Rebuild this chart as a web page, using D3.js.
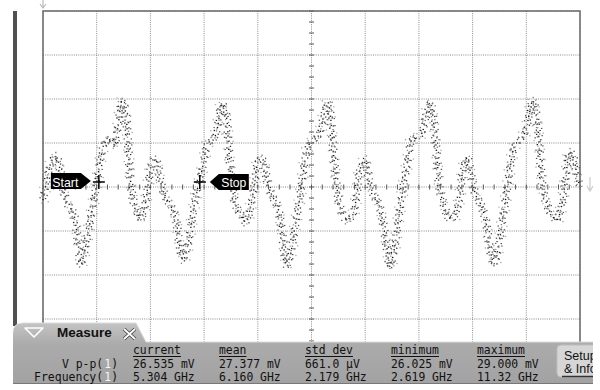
<!DOCTYPE html>
<html>
<head>
<meta charset="utf-8">
<script src="https://cdn.jsdelivr.net/npm/d3@7"></script>
<style>
  body { margin: 0; background: #fff; }
  svg { display: block; }
</style>
</head>
<body>
<div id="scope"></div>
<script>
// waveform: time in ps, amplitude in mV
const timePs = [
  0, 7, 17, 24, 32, 39, 47, 56, 61, 67, 71, 76, 84, 93, 101, 108, 115, 125, 132, 140, 147, 153, 158, 162, 168, 175, 182, 190, 197, 205, 212,
  218, 227, 237, 246, 253, 261, 268, 276, 285, 292, 300, 307, 317, 324, 333, 341, 346, 352, 359, 369, 378, 387, 395, 402, 410,
  417, 426, 436, 443, 449, 454, 462, 469, 479, 488, 495, 505, 514, 523, 531, 536, 542, 548, 555, 564, 574, 583, 590, 600,
  607, 616, 626, 633, 641, 646, 654, 661, 670, 680, 687, 696, 706, 713, 721, 728, 734, 739, 747, 756, 765, 775, 782, 790,
  797, 806, 816, 825, 832, 840, 847, 855, 864, 872, 879, 888, 898, 905, 912, 920, 926, 931, 939, 948, 957, 966, 974, 981, 989, 996, 1000
];
const voltMv = [
  -2.1, 1.1, 4.3, 4.9, 2.7, -0.8, -2.9, -4.0, -6.0, -10.0, -12.2, -10.8, -7.2, -2.9, 1.1, 4.8, 7.0, 7.5, 6.5, 9.9, 13.7, 12.2, 7.5, 1.9, -2.1, -3.7, -5.2, -2.9, 1.1, 4.3, 4.0,
  1.1, -1.3, -2.9, -4.5, -8.4, -11.6, -10.0, -6.0, -1.3, 1.1, 4.3, 7.0, 7.5, 9.1, 13.2, 11.4, 5.9, 0.3, -2.9, -4.5, -5.6, -2.9, 1.1, 4.3, 4.3,
  1.1, -1.3, -2.9, -6.0, -10.0, -12.6, -10.3, -6.5, -1.3, 4.3, 6.7, 7.5, 8.3, 11.4, 13.4, 10.7, 4.3, -0.5, -3.7, -5.2, -4.9, -2.1, 2.7, 4.3,
  1.1, -1.3, -2.9, -5.7, -10.0, -12.6, -10.0, -5.6, -0.5, 4.6, 7.5, 7.8, 8.7, 11.4, 13.4, 9.9, 4.3, -0.5, -2.9, -4.9, -4.9, -2.1, 2.7, 4.6,
  1.9, -1.3, -2.9, -5.6, -9.7, -12.2, -10.0, -5.6, -0.5, 4.3, 6.7, 7.5, 8.7, 11.4, 13.7, 10.7, 4.3, -0.5, -2.9, -4.5, -5.2, -2.9, 1.9, 5.6, 4.3, 1.1, 0.3
];

// Start / Stop markers
const markerNames = ['Start', 'Stop'];
const markerTimes = [104, 292];
const markerLevel = 0.8;

// measurement table
const rowLabels = ['V p-p', 'Frequency'];
const colHeads = ['current', 'mean', 'std dev', 'minimum', 'maximum'];
const vppValues = ['26.535 mV', '27.377 mV', '661.0 µV', '26.025 mV', '29.000 mV'];
const freqValues = ['5.304 GHz', '6.160 GHz', '2.179 GHz', '2.619 GHz', '11.32 GHz'];

const W = 600, H = 390;
const plotL = 43, plotR = 580, plotT = 11, plotB = 363;

const x = d3.scaleLinear().domain([0, 1000]).range([plotL, plotR]);
const y = d3.scaleLinear().domain([-28, 28]).range([plotB, plotT]);

const svg = d3.select('#scope').append('svg')
  .attr('width', W)
  .attr('height', H)
  .style('font-family', 'DejaVu Sans Mono, monospace');

// dark bar at the far left
svg.append('rect').attr('x', 13).attr('y', 11).attr('width', 4).attr('height', 315).attr('fill', '#505050');

// grid
const grid = svg.append('g');
const vDivs = d3.range(0, 1001, 100);
const hDivs = d3.range(-28, 29, 7);
grid.selectAll('.vg').data(vDivs).enter().append('line')
  .attr('x1', d => x(d)).attr('x2', d => x(d))
  .attr('y1', plotT).attr('y2', plotB)
  .attr('stroke', '#8a8a8a').attr('stroke-dasharray', '1 1.2');
grid.selectAll('.hg').data(hDivs).enter().append('line')
  .attr('x1', plotL).attr('x2', plotR)
  .attr('y1', d => y(d)).attr('y2', d => y(d))
  .attr('stroke', '#8a8a8a').attr('stroke-dasharray', '1 1.2');

// minor ticks on the centre axes
grid.selectAll('.mx').data(d3.range(0, 1001, 20)).enter().append('line')
  .attr('x1', d => x(d)).attr('x2', d => x(d))
  .attr('y1', y(0) - 2.5).attr('y2', y(0) + 2.5)
  .attr('stroke', '#555');
grid.selectAll('.my').data(d3.range(-28, 28.01, 1.75)).enter().append('line')
  .attr('x1', x(500) - 2.5).attr('x2', x(500) + 2.5)
  .attr('y1', d => y(d)).attr('y2', d => y(d))
  .attr('stroke', '#555');

// frame
svg.append('path')
  .attr('d', `M${plotL},${plotB}V${plotT}H${plotR}V${plotB}`)
  .attr('fill', 'none').attr('stroke', '#6a6a6a').attr('stroke-width', 1.5);

// trigger / ground arrows
svg.append('path').attr('d', `M${plotL},0V7M${plotL - 3},4L${plotL},8L${plotL + 3},4`)
  .attr('fill', 'none').attr('stroke', '#bbb').attr('stroke-width', 1.2);
svg.append('path').attr('d', `M590,177V190M587,186L590,191L593,186`)
  .attr('fill', 'none').attr('stroke', '#ccc').attr('stroke-width', 1.2);

// waveform drawn as a cloud of dots (several dotted passes around the trace)
const pts = timePs.map((t, i) => [t, voltMv[i]]);
const line = d3.line()
  .x(d => x(d[0]))
  .y(d => y(d[1]))
  .curve(d3.curveCatmullRom.alpha(0.5));
const passes = [
  { dx: 0, dy: 0, dash: '1.2 4 1.2 7 1.2 3', col: '#111' },
  { dx: -2, dy: -1.5, dash: '1.2 6 1.2 3 1.2 9', col: '#222' },
  { dx: 2, dy: 1.5, dash: '1.2 5 1.2 8 1.2 4', col: '#333' },
  { dx: -3.5, dy: 1, dash: '1.2 7 1.2 4 1.2 11', col: '#555' },
  { dx: 3.5, dy: -1, dash: '1.2 9 1.2 5 1.2 6', col: '#555' },
  { dx: -1, dy: 4, dash: '1.2 8 1.2 12 1.2 5', col: '#777' },
  { dx: 1, dy: -4, dash: '1.2 10 1.2 6 1.2 8', col: '#777' },
  { dx: 0, dy: 2.5, dash: '1.2 11 1.2 7', col: '#999' },
  { dx: -1.5, dy: -3, dash: '1.2 13 1.2 6', col: '#999' },
  { dx: 5, dy: 3, dash: '1.2 15 1.2 9', col: '#aaa' },
  { dx: -5, dy: -3, dash: '1.2 14 1.2 10', col: '#aaa' }
];
const wave = svg.append('g');
passes.forEach((p, k) => {
  wave.append('path')
    .attr('d', line(pts))
    .attr('transform', `translate(${p.dx},${p.dy})`)
    .attr('fill', 'none')
    .attr('stroke', p.col)
    .attr('stroke-width', 1.4)
    .attr('stroke-dasharray', p.dash)
    .attr('stroke-dashoffset', k * 1.7);
});

// Start / Stop markers
markerTimes.forEach((t, i) => {
  const cx = x(t), cy = y(markerLevel);
  const g = svg.append('g');
  g.append('path').attr('d', `M${cx - 6},${cy}H${cx + 6}M${cx},${cy - 7}V${cy + 7}`)
    .attr('stroke', '#000').attr('stroke-width', 1.5);
  let shape, tx;
  if (i === 0) {
    shape = `M${cx - 48},${cy - 9}H${cx - 18}L${cx - 8},${cy - 1}L${cx - 18},${cy + 7}H${cx - 48}Z`;
    tx = cx - 46.5;
  } else {
    shape = `M${cx + 10},${cy}L${cx + 19},${cy - 8}H${cx + 49}V${cy + 8}H${cx + 19}Z`;
    tx = cx + 21.5;
  }
  g.append('path').attr('d', shape).attr('fill', '#000');
  g.append('text').attr('x', tx).attr('y', cy + 5)
    .attr('fill', '#fff')
    .attr('font-family', 'Liberation Sans, Arial, sans-serif')
    .attr('font-size', 13.5)
    .attr('textLength', markerNames[i] === 'Start' ? 26 : 25)
    .attr('lengthAdjust', 'spacingAndGlyphs')
    .text(markerNames[i]);
});

// measure panel
const defs = svg.append('defs');
const grad = defs.append('linearGradient').attr('id', 'pg').attr('x1', 0).attr('x2', 0).attr('y1', 0).attr('y2', 1);
grad.append('stop').attr('offset', '0%').attr('stop-color', '#c4c4c4');
grad.append('stop').attr('offset', '35%').attr('stop-color', '#ababab');
grad.append('stop').attr('offset', '100%').attr('stop-color', '#a2a2a2');
defs.append('clipPath').attr('id', 'pc').append('rect')
  .attr('x', 0).attr('y', 300).attr('width', 593).attr('height', 90);

const panel = svg.append('g').attr('clip-path', 'url(#pc)');
panel.append('path')
  .attr('d', 'M13,384V333Q13,323 23,323H136L146,342H600V384Z')
  .attr('fill', 'url(#pg)');
panel.append('path')
  .attr('d', 'M13,333Q13,323 23,323H136L146,342H600')
  .attr('fill', 'none').attr('stroke', '#dcdcdc').attr('stroke-width', 1);
panel.append('line').attr('x1', 13).attr('x2', 600).attr('y1', 383.5).attr('y2', 383.5)
  .attr('stroke', '#777');

// tab widgets
panel.append('path').attr('d', 'M25,328L34,337L43,328Z')
  .attr('fill', 'none').attr('stroke', '#fff').attr('stroke-width', 1.6).attr('stroke-linejoin', 'round');
panel.append('text').attr('x', 57).attr('y', 337)
  .attr('font-family', 'Liberation Sans, Arial, sans-serif')
  .attr('font-weight', 'bold').attr('font-size', 13.5).attr('fill', '#111')
  .text('Measure');
panel.append('path').attr('d', 'M124,329L135,339M135,329L124,339')
  .attr('stroke', '#444').attr('stroke-width', 3.5);
panel.append('path').attr('d', 'M124,329L135,339M135,329L124,339')
  .attr('stroke', '#fff').attr('stroke-width', 1.8);

// table
const cw = 6.85;
const colX = d3.range(colHeads.length).map(i => 133 + i * 86);
const tbl = panel.append('g').attr('font-size', 12).attr('fill', '#111');
colHeads.forEach((h, i) => {
  tbl.append('text').attr('x', colX[i]).attr('y', 354)
    .attr('textLength', h.length * cw).attr('lengthAdjust', 'spacingAndGlyphs').text(h);
  tbl.append('line').attr('x1', colX[i]).attr('x2', colX[i] + h.length * cw)
    .attr('y1', 356.5).attr('y2', 356.5).attr('stroke', '#111');
});
[vppValues, freqValues].forEach((vals, r) => {
  const by = 367.5 + r * 13;
  vals.forEach((v, i) => {
    tbl.append('text').attr('x', colX[i]).attr('y', by)
      .attr('textLength', v.length * cw).attr('lengthAdjust', 'spacingAndGlyphs').text(v);
  });
  // label "xxx(1)" right-aligned at x=118, the channel digit drawn in white
  const lab = rowLabels[r] + '(';
  const ch = 7;
  const x0 = 118 - (lab.length + 2) * ch;
  tbl.append('text').attr('x', x0).attr('y', by).attr('font-size', 11.4)
    .attr('textLength', lab.length * ch - 0.8).attr('lengthAdjust', 'spacingAndGlyphs').text(lab);
  tbl.append('text').attr('x', x0 + lab.length * ch + 0.3).attr('y', by).attr('font-size', 11.4)
    .attr('fill', '#f4f4f4').text('1');
  tbl.append('text').attr('x', x0 + (lab.length + 1) * ch + 0.3).attr('y', by).attr('font-size', 11.4).text(')');
});

// Setup button at the right edge (cut off by the screen edge)
panel.append('rect').attr('x', 557).attr('y', 345).attr('width', 50).attr('height', 32).attr('rx', 4)
  .attr('fill', '#d6d6d6').attr('stroke', '#bdbdbd');
panel.append('line').attr('x1', 562).attr('x2', 600).attr('y1', 376.5).attr('y2', 376.5)
  .attr('stroke', '#333').attr('stroke-width', 1.5);
const btn = panel.append('g').attr('font-family', 'Liberation Sans, Arial, sans-serif')
  .attr('font-size', 12.5).attr('fill', '#111');
btn.append('text').attr('x', 564).attr('y', 359.5).text('Setup');
btn.append('text').attr('x', 564).attr('y', 373).text('& Info');
</script>
</body>
</html>
